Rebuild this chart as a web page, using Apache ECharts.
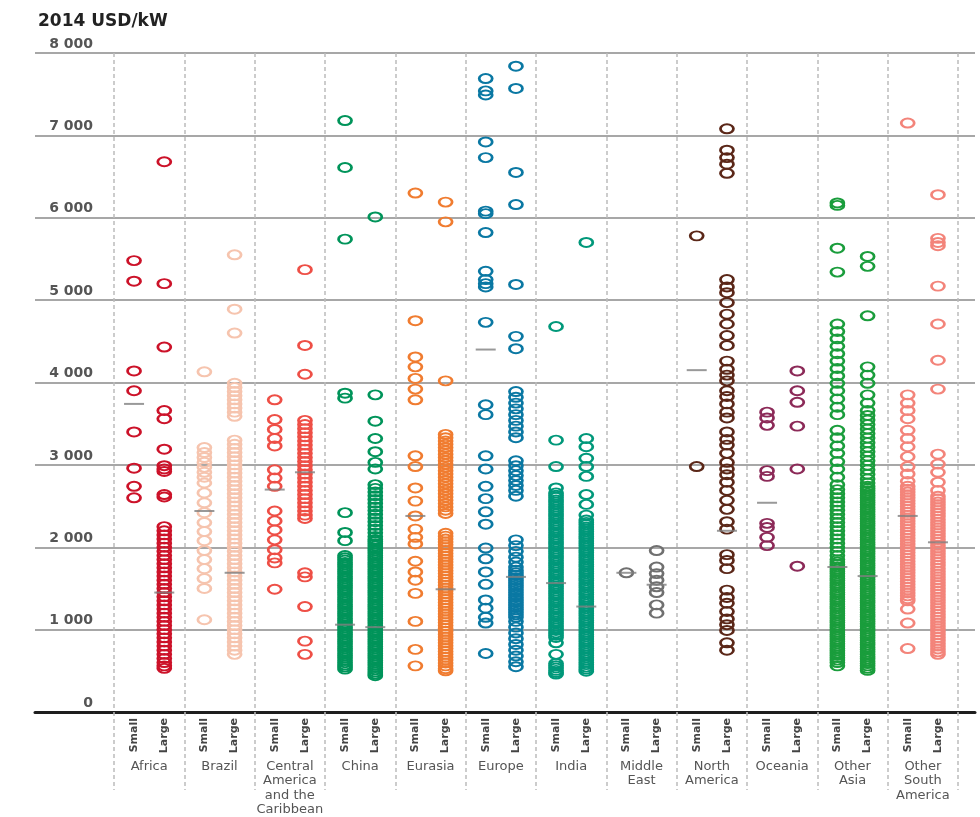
<!DOCTYPE html>
<html>
<head>
<meta charset="utf-8">
<script src="https://cdn.jsdelivr.net/npm/echarts@6/dist/echarts.min.js"></script>
<style>
  html, body { margin: 0; padding: 0; background: #ffffff; }
  #chart { width: 980px; height: 817px; }
</style>
</head>
<body>
<div id="chart"></div>
<script>
// Regions along the x axis (each split into small and large plants)
const regions = ['Africa', 'Brazil', 'Central\nAmerica\nand the\nCaribbean', 'China', 'Eurasia', 'Europe',
  'India', 'Middle\nEast', 'North\nAmerica', 'Oceania', 'Other\nAsia', 'Other\nSouth\nAmerica'];
const sizeClasses = ['Small', 'Large'];
const regionColors = ['#cc1229', '#f6c4ae', '#ee4f46', '#00945a', '#f07c30', '#0a78a3',
  '#00987a', '#707070', '#5b2718', '#8c2a58', '#1a9d3c', '#f3847a'];

// Y axis ticks (2014 USD/kW)
const yTicks = [0, 1000, 2000, 3000, 4000, 5000, 6000, 7000, 8000];
const yTickLabels = ['0', '1 000', '2 000', '3 000', '4 000', '5 000', '6 000', '7 000', '8 000'];

// Investment cost per plant, USD/kW
const africaSmall = [5480, 5230, 4140, 3900, 3400, 2960, 2740, 2600];
const africaLarge = [6680, 5200, 4430, 3660, 3560, 3190, 2990, 2950, 2920, 2640, 2610,
  2250, 2200, 2150, 2100, 2050, 2000, 1950, 1900, 1850, 1800, 1750, 1700, 1650, 1600, 1550, 1500, 1450, 1400,
  1350, 1300, 1250, 1200, 1150, 1100, 1050, 1000, 950, 900, 850, 800, 750, 700, 650, 600, 560, 530];
const brazilSmall = [4130, 3210, 3150, 3090, 3030, 2970, 2910, 2850, 2780, 2660, 2540, 2420, 2300, 2190, 2080,
  1960, 1850, 1740, 1620, 1500, 1120];
const brazilLarge = [5550, 4890, 4600, 3990, 3940, 3890, 3840, 3790, 3740, 3690, 3640, 3590,
  3300, 3250, 3200, 3150, 3100, 3050, 3000, 2950, 2900, 2850, 2800, 2750, 2700, 2650, 2600, 2550, 2500, 2450,
  2400, 2350, 2300, 2250, 2200, 2150, 2100, 2050, 2000, 1950, 1900, 1850, 1800, 1750, 1700, 1650, 1600, 1550,
  1500, 1450, 1400, 1350, 1300, 1250, 1200, 1150, 1100, 1050, 1000, 950, 900, 850, 800, 750, 700];
const centralAmericaSmall = [3790, 3550, 3430, 3320, 3230, 2940, 2840, 2740, 2440, 2320, 2210, 2090, 1970, 1870,
  1810, 1490];
const centralAmericaLarge = [5370, 4450, 4100, 3540, 3490, 3440, 3390, 3340, 3290, 3240, 3190, 3140, 3090, 3040,
  2990, 2940, 2890, 2840, 2790, 2740, 2690, 2640, 2590, 2540, 2490, 2440, 2390, 2350, 1690, 1640, 1280, 860, 700];
const chinaSmall = [7180, 6610, 5740, 3870, 3810, 2420, 2180, 2080,
  1900, 1872, 1845, 1815, 1788, 1760, 1730, 1702, 1675, 1645, 1618, 1590, 1560, 1532, 1505, 1475, 1448, 1420,
  1390, 1362, 1335, 1305, 1278, 1250, 1220, 1192, 1165, 1135, 1108, 1080, 1050, 1022, 995, 965, 938, 910, 880,
  852, 825, 795, 768, 740, 710, 682, 655, 625, 598, 570, 545, 520];
const chinaLarge = [6010, 3850, 3530, 3320, 3160, 3030, 2950,
  2760, 2715, 2670, 2625, 2580, 2535, 2490, 2445, 2400, 2355, 2310, 2265, 2220, 2175, 2130, 2095,
  2070, 2042, 2015, 1985, 1958, 1930, 1900, 1872, 1845, 1815, 1788, 1760, 1730, 1702, 1675, 1645, 1618, 1590,
  1560, 1532, 1505, 1475, 1448, 1420, 1390, 1362, 1335, 1305, 1278, 1250, 1220, 1192, 1165, 1135, 1108, 1080,
  1050, 1022, 995, 965, 938, 910, 880, 852, 825, 795, 768, 740, 710, 682, 655, 625, 598, 570, 540, 512, 485,
  460, 440];
const eurasiaSmall = [6300, 4750, 4310, 4190, 4050, 3920, 3790, 3110, 2980, 2720, 2560, 2380, 2220, 2120, 2040,
  1830, 1700, 1600, 1440, 1100, 760, 560];
const eurasiaLarge = [6190, 5950, 4020,
  3370, 3330, 3290, 3250, 3210, 3170, 3130, 3090, 3050, 3010, 2970, 2930, 2890, 2850, 2810, 2770, 2730, 2690,
  2650, 2610, 2570, 2530, 2490, 2450, 2410,
  2170, 2135, 2100, 2065, 2030, 1995, 1960, 1925, 1890, 1855, 1820, 1785, 1750, 1715, 1680, 1645, 1610, 1575,
  1540, 1505, 1470, 1435, 1400, 1365, 1330, 1295, 1260, 1225, 1190, 1155, 1120, 1085, 1050, 1015, 980, 945,
  910, 875, 840, 805, 770, 735, 700, 665, 630, 595, 560, 525, 500];
const europeSmall = [7690, 7540, 7490, 6920, 6730, 6080, 6050, 5820, 5350, 5250, 5200, 5160, 4730, 3730, 3610,
  3110, 2950, 2740, 2590, 2430, 2280, 1990, 1860, 1700, 1550, 1360, 1260, 1150, 1080, 710];
const europeLarge = [7840, 7570, 6550, 6160, 5190, 4560, 4410, 3890, 3820, 3750, 3680, 3610, 3540, 3470, 3400,
  3330, 3050, 2990, 2930, 2870, 2810, 2750, 2690, 2620, 2090, 2020, 1950, 1880, 1820, 1760, 1720, 1690, 1660,
  1630, 1600, 1570, 1540, 1510, 1480, 1450, 1420, 1390, 1360, 1330, 1300, 1270, 1240, 1210, 1180, 1150, 1100,
  1030, 960, 890, 820, 750, 680, 610, 550];
const indiaSmall = [4680, 3300, 2980, 2720,
  2660, 2632, 2605, 2575, 2548, 2520, 2490, 2462, 2435, 2405, 2378, 2350, 2320, 2292, 2265, 2235, 2208, 2180,
  2150, 2122, 2095, 2065, 2038, 2010, 1980, 1952, 1925, 1895, 1868, 1840, 1810, 1782, 1755, 1725, 1698, 1670,
  1640, 1612, 1585, 1555, 1528, 1500, 1470, 1442, 1415, 1385, 1358, 1330, 1300, 1272, 1245, 1215, 1188, 1160,
  1130, 1102, 1075, 1045, 1018, 990, 960, 932, 905, 840, 700, 590, 562, 535, 505, 480, 460];
const indiaLarge = [5700, 3320, 3220, 3080, 2980, 2860, 2640, 2520, 2390,
  2330, 2302, 2275, 2245, 2218, 2190, 2160, 2132, 2105, 2075, 2048, 2020, 1990, 1962, 1935, 1905, 1878, 1850,
  1820, 1792, 1765, 1735, 1708, 1680, 1650, 1622, 1595, 1565, 1538, 1510, 1480, 1452, 1425, 1395, 1368, 1340,
  1310, 1282, 1255, 1225, 1198, 1170, 1140, 1112, 1085, 1055, 1028, 1000, 970, 942, 915, 885, 858, 830, 800,
  772, 745, 715, 688, 660, 630, 602, 575, 545, 520, 495];
const middleEastSmall = [1690];
const middleEastLarge = [1960, 1760, 1680, 1600, 1520, 1450, 1300, 1200];
const northAmericaSmall = [5780, 2980];
const northAmericaLarge = [7080, 6820, 6730, 6650, 6540, 5250, 5160, 5090, 4970, 4830, 4710, 4570, 4450, 4260,
  4160, 4090, 4020, 3900, 3830, 3740, 3640, 3570, 3400, 3310, 3240, 3140, 3030, 2950, 2880, 2790, 2690, 2570,
  2460, 2310, 2220, 1910, 1840, 1740, 1480, 1390, 1320, 1220, 1130, 1060, 990, 840, 750];
const oceaniaSmall = [3640, 3570, 3480, 2930, 2860, 2290, 2240, 2120, 2020];
const oceaniaLarge = [4140, 3900, 3760, 3470, 2950, 1770];
const otherAsiaSmall = [6180, 6150, 5630, 5340, 4710, 4620, 4530, 4440, 4350, 4260, 4170, 4080, 3990, 3900, 3800,
  3700, 3610, 3420, 3330, 3230, 3140, 3040, 2950, 2850, 2760, 2700, 2650, 2600, 2550, 2500, 2450, 2400, 2350,
  2300, 2250, 2200, 2150, 2100, 2050, 2000, 1950, 1900, 1850,
  1820, 1792, 1765, 1735, 1708, 1680, 1650, 1622, 1595, 1565, 1538, 1510, 1480, 1452, 1425, 1395, 1368, 1340,
  1310, 1282, 1255, 1225, 1198, 1170, 1140, 1112, 1085, 1055, 1028, 1000, 970, 942, 915, 885, 858, 830, 800,
  772, 745, 715, 688, 660, 630, 600, 560];
const otherAsiaLarge = [5530, 5410, 4810, 4190, 4090, 3990, 3850, 3750, 3660, 3600, 3545, 3490, 3435, 3380, 3325,
  3270, 3215, 3160, 3105, 3050, 2995, 2940, 2885, 2830, 2780,
  2740, 2712, 2685, 2655, 2628, 2600, 2570, 2542, 2515, 2485, 2458, 2430, 2400, 2372, 2345, 2315, 2288, 2260,
  2230, 2202, 2175, 2145, 2118, 2090, 2060, 2032, 2005, 1975, 1948, 1920, 1890, 1862, 1835, 1805, 1778, 1750,
  1720, 1692, 1665, 1635, 1608, 1580, 1550, 1522, 1495, 1465, 1438, 1410, 1380, 1352, 1325, 1295, 1268, 1240,
  1210, 1182, 1155, 1125, 1098, 1070, 1040, 1012, 985, 955, 928, 900, 870, 842, 815, 785, 758, 730, 700, 672,
  645, 615, 588, 560, 530, 505];
const otherSouthAmericaSmall = [7150, 3850, 3750, 3660, 3560, 3420, 3320, 3220, 3100, 2980, 2890, 2800,
  2740, 2705, 2670, 2635, 2600, 2565, 2530, 2495, 2460, 2425, 2390, 2355, 2320, 2285, 2250, 2215, 2180, 2145,
  2110, 2075, 2040, 2005, 1970, 1935, 1900, 1865, 1830, 1795, 1760, 1725, 1690, 1655, 1620, 1585, 1550, 1515,
  1480, 1445, 1410, 1375, 1350, 1250, 1080, 770];
const otherSouthAmericaLarge = [6280, 5750, 5700, 5660, 5170, 4710, 4270, 3920, 3130, 3010, 2910, 2790, 2690,
  2620, 2585, 2550, 2515, 2480, 2445, 2410, 2375, 2340, 2305, 2270, 2235, 2200, 2165, 2130, 2095, 2060, 2025,
  1990, 1955, 1920, 1885, 1850, 1815, 1780, 1745, 1710, 1675, 1640, 1605, 1570, 1535, 1500, 1465, 1430, 1395,
  1360, 1325, 1290, 1255, 1220, 1185, 1150, 1115, 1080, 1045, 1010, 975, 940, 905, 870, 835, 800, 765, 730, 700];

// Average cost for each group (short grey bars)
const smallAverages = [3740, 2440, 2700, 1060, 2380, 4400, 1565, 1690, 4150, 2540, 1760, 2380];
const largeAverages = [1450, 1690, 2910, 1030, 1490, 1640, 1280, 1545, 2200, null, 1650, 2060];

const smallValues = [africaSmall, brazilSmall, centralAmericaSmall, chinaSmall, eurasiaSmall, europeSmall,
  indiaSmall, middleEastSmall, northAmericaSmall, oceaniaSmall, otherAsiaSmall, otherSouthAmericaSmall];
const largeValues = [africaLarge, brazilLarge, centralAmericaLarge, chinaLarge, eurasiaLarge, europeLarge,
  indiaLarge, middleEastLarge, northAmericaLarge, oceaniaLarge, otherAsiaLarge, otherSouthAmericaLarge];

// Offsets of the two size columns inside each region band
const SMALL_OFFSET = 0.285;
const LARGE_OFFSET = 0.715;
const ring = 'path://M0,5A5,5 0 1,1 10,5A5,5 0 1,1 0,5Z';
const FONT = 'DejaVu Sans';

const series = regions.map((name, i) => ({
  type: 'scatter',
  name: name,
  xAxisIndex: 1,
  yAxisIndex: 1,
  symbol: ring,
  symbolSize: [13, 9],
  itemStyle: { color: 'rgba(255,255,255,0)', borderColor: regionColors[i], borderWidth: 2.3, opacity: 1 },
  emphasis: { disabled: true },
  data: smallValues[i].map(v => [i + SMALL_OFFSET, v]).concat(largeValues[i].map(v => [i + LARGE_OFFSET, v])),
  z: 3
}));

const avgData = [];
regions.forEach((_, i) => {
  if (smallAverages[i] != null) avgData.push([i + SMALL_OFFSET, smallAverages[i]]);
  if (largeAverages[i] != null) avgData.push([i + LARGE_OFFSET, largeAverages[i]]);
});
series.push({
  type: 'scatter',
  name: 'Average',
  xAxisIndex: 1,
  yAxisIndex: 1,
  symbol: 'rect',
  symbolSize: [20, 2],
  itemStyle: { color: '#808080' },
  emphasis: { disabled: true },
  data: avgData,
  z: 5
});

const labelPositions = [];
const regionCenters = [];
regions.forEach((_, i) => {
  labelPositions.push(i + SMALL_OFFSET, i + LARGE_OFFSET);
  regionCenters.push(i + 0.5);
});

const dashed = { type: [4, 3], color: '#bcbcbc', width: 1.5 };

const option = {
  animation: false,
  backgroundColor: '#ffffff',
  title: {
    text: '2014 USD/kW',
    left: 33,
    top: 8,
    textStyle: { fontFamily: FONT, fontSize: 17, fontWeight: 'bold', color: '#222222' }
  },
  grid: [
    { left: 35, right: 5, top: 53, bottom: 105, outerBoundsMode: 'none', containLabel: false },
    { left: 114, right: 22, top: 53, bottom: 105, outerBoundsMode: 'none', containLabel: false }
  ],
  xAxis: [
    {
      gridIndex: 0, type: 'value', min: 0, max: 1, position: 'bottom',
      axisLine: { show: true, onZero: false, lineStyle: { color: '#1e1e1e', width: 3 } },
      axisTick: { show: false }, axisLabel: { show: false }, splitLine: { show: false }
    },
    {
      gridIndex: 1, type: 'value', min: 0, max: 12, interval: 1, position: 'bottom',
      axisLine: { show: false },
      splitLine: { show: true, lineStyle: dashed },
      axisTick: { show: true, length: 78, lineStyle: dashed },
      axisLabel: {
        customValues: labelPositions,
        formatter: v => sizeClasses[(v - Math.floor(v)) < 0.5 ? 0 : 1],
        rotate: 90, margin: 6,
        fontFamily: FONT, fontSize: 11, fontWeight: 'bold', color: '#444444'
      }
    },
    {
      gridIndex: 1, type: 'value', min: 0, max: 12, position: 'bottom', offset: 41,
      axisLine: { show: false }, axisTick: { show: false }, splitLine: { show: false },
      axisLabel: {
        customValues: regionCenters,
        formatter: v => regions[Math.floor(v)],
        margin: 6,
        fontFamily: FONT, fontSize: 13, lineHeight: 14.5, color: '#555555', align: 'center'
      }
    }
  ],
  yAxis: [
    {
      gridIndex: 0, type: 'value', min: 0, max: 8000, interval: 1000,
      axisLine: { show: false }, axisTick: { show: false },
      splitLine: { show: true, lineStyle: { color: '#8a8a8a', width: 1.5 } },
      axisLabel: {
        inside: true, margin: 58, align: 'right', verticalAlign: 'bottom', padding: [0, 0, 2, 0],
        formatter: v => yTickLabels[yTicks.indexOf(v)],
        fontFamily: FONT, fontSize: 14, fontWeight: 'bold', color: '#555555'
      }
    },
    { gridIndex: 1, type: 'value', min: 0, max: 8000, show: false }
  ],
  series: series
};

const chart = echarts.init(document.getElementById('chart'), null, { renderer: 'canvas' });
chart.setOption(option);
</script>
</body>
</html>
